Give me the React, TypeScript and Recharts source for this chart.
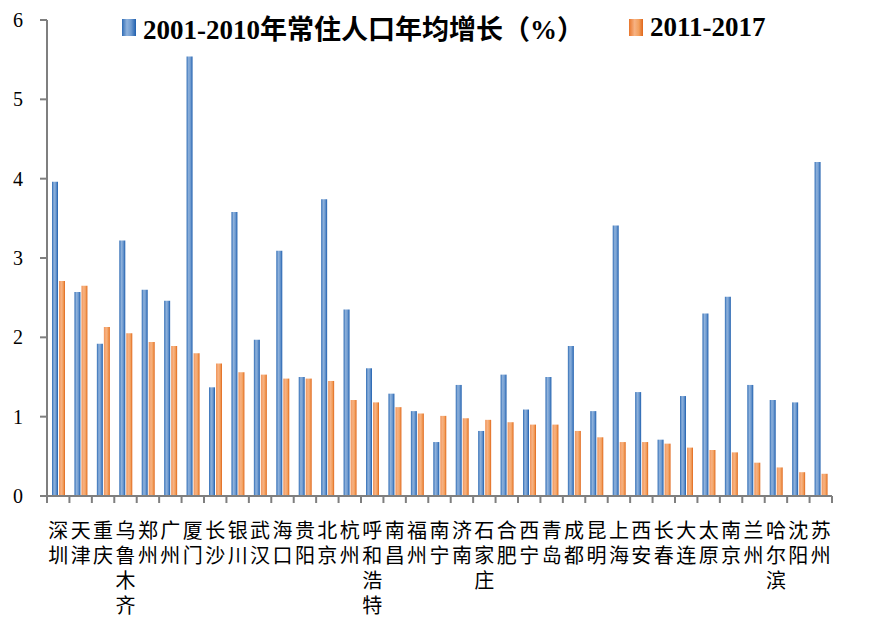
import React from 'react';
import { BarChart, Bar, XAxis, YAxis } from 'recharts';

const cities = [
    '深圳', '天津', '重庆', '乌鲁木齐', '郑州', '广州', '厦门', '长沙', '银川', '武汉', '海口', '贵阳',
    '北京', '杭州', '呼和浩特', '南昌', '福州', '南宁', '济南', '石家庄', '合肥', '西宁', '青岛', '成都',
    '昆明', '上海', '西安', '长春', '大连', '太原', '南京', '兰州', '哈尔滨', '沈阳', '苏州',
];

const growth2001_2010 = [
    3.96, 2.57, 1.92, 3.22, 2.6, 2.46, 5.54, 1.37, 3.58, 1.97, 3.09, 1.5,
    3.74, 2.35, 1.61, 1.29, 1.07, 0.68, 1.4, 0.82, 1.53, 1.09, 1.5, 1.89,
    1.07, 3.41, 1.31, 0.71, 1.26, 2.3, 2.51, 1.4, 1.21, 1.18, 4.21,
];

const growth2011_2017 = [
    2.71, 2.65, 2.13, 2.05, 1.94, 1.89, 1.8, 1.67, 1.56, 1.53, 1.48, 1.48,
    1.45, 1.21, 1.18, 1.12, 1.04, 1.01, 0.98, 0.96, 0.93, 0.9, 0.9, 0.82,
    0.74, 0.68, 0.68, 0.66, 0.61, 0.58, 0.55, 0.42, 0.36, 0.3, 0.28,
];

const yTicks = [0, 1, 2, 3, 4, 5, 6];

const data = cities.map((city, i) => ({
    city,
    a: growth2001_2010[i],
    b: growth2011_2017[i],
}));

const AXIS_GREY = '#7f7f7f';
const SERIF = "'Liberation Serif', 'Noto Sans CJK SC', serif";
const CJK = "'Noto Sans CJK SC', sans-serif";
const BAND = 785 / cities.length;

const CityTick = ({ x, y, payload, index }: any) => {
    const half = payload && payload.offset ? payload.offset : BAND / 2;
    const chars = String(payload.value).split('');
    return (
        <g>
            <line x1={x - half} x2={x - half} y1={y} y2={y + 7} stroke={AXIS_GREY} strokeWidth={2} />
            {index === cities.length - 1 && (
                <line x1={x + half} x2={x + half} y1={y} y2={y + 7} stroke={AXIS_GREY} strokeWidth={2} />
            )}
            <text x={x} y={y + 42} textAnchor="middle" fontFamily={CJK} fontSize={20} fill="#000">
                {chars.map((c, i) => (
                    <tspan key={i} x={x} dy={i === 0 ? 0 : 25}>{c}</tspan>
                ))}
            </text>
        </g>
    );
};

const Swatch = ({ grad }: { grad: string }) => (
    <span style={{ display: 'inline-block', width: 14, height: 17, background: grad, marginRight: 7 }} />
);

const BLUE_CSS = 'linear-gradient(to right, #2f6cb5, #8fb2dc 35%, #6f9bd0 65%, #1f5fae)';
const ORANGE_CSS = 'linear-gradient(to right, #e8762c, #f7b283 40%, #f2a05e 70%, #e0661a)';

const legendText: React.CSSProperties = {
    fontFamily: SERIF,
    fontWeight: 'bold',
    fontSize: 27,
    color: '#000',
    whiteSpace: 'nowrap',
};

export default function App() {
    return (
        <div style={{ position: 'absolute', left: 0, top: 0, width: 874, height: 626, background: '#fff' }}>
            <BarChart
                width={874}
                height={626}
                data={data}
                margin={{ top: 20, right: 42, left: 0, bottom: 0 }}
                barGap={1}
                barCategoryGap={5}
            >
                <defs>
                    <linearGradient id="gradBlue" x1="0" y1="0" x2="1" y2="0">
                        <stop offset="0%" stopColor="#2f6cb5" />
                        <stop offset="35%" stopColor="#8fb2dc" />
                        <stop offset="65%" stopColor="#6f9bd0" />
                        <stop offset="100%" stopColor="#1f5fae" />
                    </linearGradient>
                    <linearGradient id="gradOrange" x1="0" y1="0" x2="1" y2="0">
                        <stop offset="0%" stopColor="#f0955a" />
                        <stop offset="40%" stopColor="#f7b283" />
                        <stop offset="70%" stopColor="#f2a05e" />
                        <stop offset="100%" stopColor="#e0661a" />
                    </linearGradient>
                </defs>
                <XAxis
                    dataKey="city"
                    interval={0}
                    height={130}
                    axisLine={{ stroke: AXIS_GREY, strokeWidth: 2 }}
                    tickLine={false}
                    tickSize={0}
                    tickMargin={0}
                    tick={<CityTick />}
                />
                <YAxis
                    width={47}
                    domain={[0, 6]}
                    ticks={yTicks}
                    interval={0}
                    axisLine={{ stroke: AXIS_GREY, strokeWidth: 2 }}
                    tickLine={{ stroke: AXIS_GREY, strokeWidth: 2 }}
                    tickSize={7}
                    tickMargin={17}
                    tick={{ fontFamily: SERIF, fontSize: 20, fill: '#000' }}
                />
                <Bar dataKey="a" fill="url(#gradBlue)" barSize={6} isAnimationActive={false} />
                <Bar dataKey="b" fill="url(#gradOrange)" barSize={6} isAnimationActive={false} />
            </BarChart>
            <div style={{ position: 'absolute', left: 122, top: 12, display: 'flex', alignItems: 'center', height: 30 }}>
                <Swatch grad={BLUE_CSS} />
                <span style={legendText}>2001-2010年常住人口年均增长（%）</span>
            </div>
            <div style={{ position: 'absolute', left: 629, top: 12, display: 'flex', alignItems: 'center', height: 30 }}>
                <Swatch grad={ORANGE_CSS} />
                <span style={legendText}>2011-2017</span>
            </div>
        </div>
    );
}
